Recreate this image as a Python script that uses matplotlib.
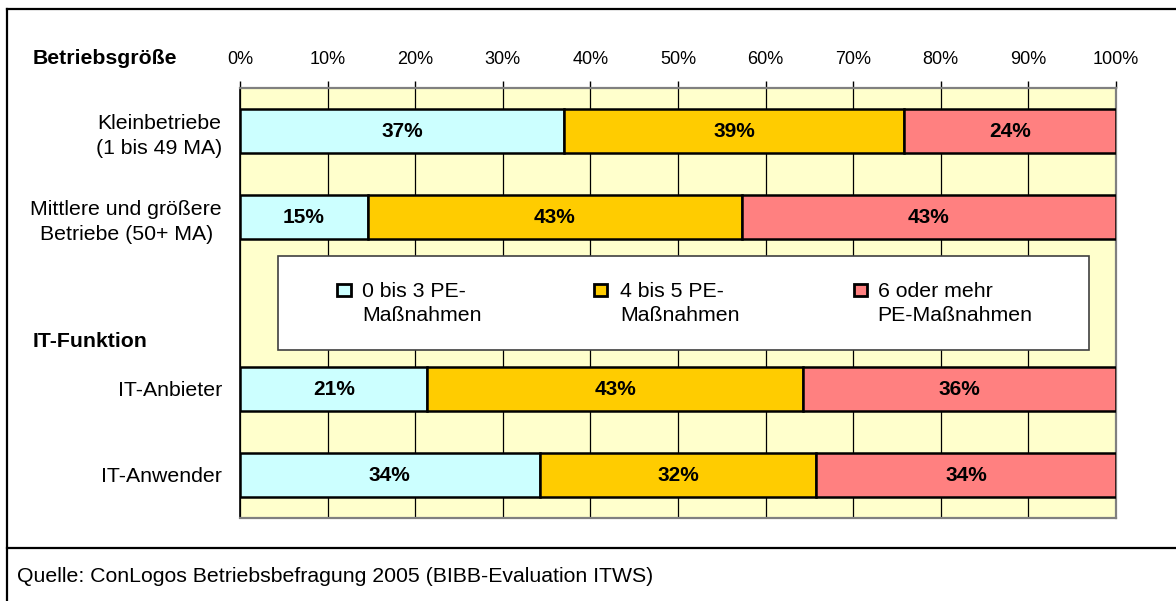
import matplotlib.pyplot as plt
from matplotlib.lines import Line2D
from matplotlib.patches import Rectangle
import numpy as np

plt.rcParams['font.family'] = ['Liberation Sans', 'DejaVu Sans']

# rows (empty row in the middle holds the legend)
categories = ["Kleinbetriebe\n(1 bis 49 MA)", "Mittlere und größere\nBetriebe (50+ MA)", "",
              "IT-Anbieter", "IT-Anwender"]
series_names = ["0 bis 3 PE-\nMaßnahmen", "4 bis 5 PE-\nMaßnahmen", "6 oder mehr\nPE-Maßnahmen"]
low = [37.0, 14.6, None, 21.4, 34.2]
mid = [38.8, 42.7, None, 42.9, 31.6]
high = [24.2, 42.7, None, 35.7, 34.2]
colors = ['#CCFFFF', '#FFCC00', '#FF8080']

fig = plt.figure(figsize=(11.76, 6.01), dpi=100)
ax = fig.add_axes([240/1176, 1-518/601, 876/1176, 430/601])
ax.set_facecolor('#FFFFCC')

ypos = np.arange(len(categories))
left = np.zeros(len(categories))
for vals, col in zip([low, mid, high], colors):
    for i, v in enumerate(vals):
        if v is None:
            continue
        ax.barh(ypos[i], v, left=left[i], height=0.51, color=col,
                edgecolor='black', linewidth=1.8, zorder=3)
        ax.text(left[i] + v/2, ypos[i] + 0.01, f"{round(v)}%", ha='center', va='center',
                fontsize=15, fontweight='bold', zorder=4)
        left[i] += v

ax.set_xlim(0, 100)
ax.set_ylim(len(categories) - 0.5, -0.5)
ax.set_xticks(np.arange(0, 101, 10))
ax.set_xticklabels([f"{t}%" for t in range(0, 101, 10)], fontsize=13)
ax.xaxis.tick_top()
ax.tick_params(axis='x', length=5, width=1, color='black', pad=9.5)
ax.set_yticks(ypos)
ax.set_yticklabels(categories, fontsize=15.3, multialignment='center', linespacing=1.38)
ax.tick_params(axis='y', length=0, pad=13)
ax.grid(axis='x', color='black', linewidth=0.9, zorder=1)
ax.set_axisbelow(True)
for s in ['top', 'right', 'bottom']:
    ax.spines[s].set_color('#808080')
    ax.spines[s].set_linewidth(1.6)
ax.spines['left'].set_color('black')
ax.spines['left'].set_linewidth(1.2)

# legend box drawn in the empty row
ax.add_patch(Rectangle((4.34, 1.453), 92.6, 1.094, facecolor='white',
                       edgecolor='#404040', linewidth=1.2, zorder=5))
leg_sq = [11.87, 41.2, 70.8]
leg_tx = [13.93, 43.4, 72.8]
for sx, tx, col, name in zip(leg_sq, leg_tx, colors, series_names):
    ax.add_patch(Rectangle((sx - 0.75, 1.849 - 0.075), 1.5, 0.15, facecolor=col,
                           edgecolor='black', linewidth=2, zorder=6))
    ax.text(tx, 1.755, name, ha='left', va='top', fontsize=15.3,
            linespacing=1.35, zorder=6)

fig.text(33/1176, 1-58/601, "Betriebsgröße", fontsize=15.3, fontweight='bold', va='center')
fig.text(33/1176, 1-341/601, "IT-Funktion", fontsize=15.3, fontweight='bold', va='center')
fig.text(17/1176, 1-576/601, "Quelle: ConLogos Betriebsbefragung 2005 (BIBB-Evaluation ITWS)",
         fontsize=15.3, va='center')

# frame lines
x0 = 7/1176
ytop = 1-9/601
fig.add_artist(Line2D([x0, 1], [ytop, ytop], color='black', linewidth=1.6))
fig.add_artist(Line2D([x0, x0], [0, ytop], color='black', linewidth=1.6))
fig.add_artist(Line2D([x0, 1], [1-548/601, 1-548/601], color='black', linewidth=1.6))

fig.savefig('out.png', dpi=100)
